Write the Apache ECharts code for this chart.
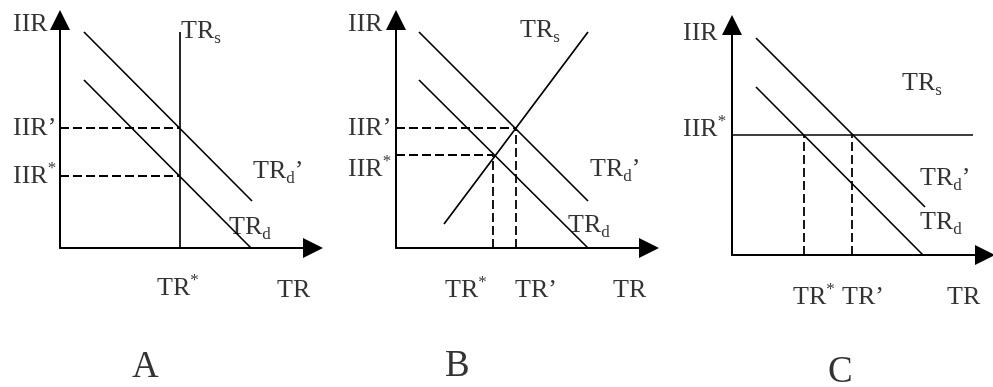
<!DOCTYPE html>
<html>
<head>
<meta charset="utf-8">
<style>
  html, body { margin: 0; padding: 0; background: #fff; }
  #chart { width: 993px; height: 387px; }
</style>
<script src="https://cdn.jsdelivr.net/npm/echarts@6/dist/echarts.min.js"></script>
</head>
<body>
<div id="chart"></div>
<script>
// axis ranges (units, origin at each panel's corner)
const xMax = 253;
const yMaxes = [228, 228, 230];

// panel A: vertical supply
const supplyA = [[120, 0], [120, 216]];
const demandNewA = [[24, 216], [192, 47]];
const demandA = [[24, 168], [191, 0]];
const guidesA = [
  [[0, 120], [120, 120]],
  [[0, 72], [120, 72]],
];
const labelsA = [
  [-47, 224, 'IIR'],
  [121, 217, 'TR{s|s}'],
  [-47, 120, 'IIR’'],
  [-47, 72, 'IIR{sup|*}'],
  [193, 77, 'TR{s|d}’'],
  [169, 21, 'TR{s|d}'],
  [97, -40, 'TR{sup|*}'],
  [217, -42, 'TR'],
  [72, -119, '{big|A}'],
];

// panel B: upward sloping supply
const supplyB = [[48, 24], [192, 216]];
const demandNewB = [[23, 216], [192, 47]];
const demandB = [[23, 168], [192, 0]];
const guidesB = [
  [[0, 120], [120, 120]],
  [[0, 93], [97, 93]],
  [[97, 0], [97, 93]],
  [[120, 0], [120, 120]],
];
const labelsB = [
  [-48, 224, 'IIR'],
  [124, 218, 'TR{s|s}'],
  [-48, 120, 'IIR’'],
  [-48, 79, 'IIR{sup|*}'],
  [194, 79, 'TR{s|d}’'],
  [172, 23, 'TR{s|d}'],
  [49, -42, 'TR{sup|*}'],
  [119, -42, 'TR’'],
  [217, -42, 'TR'],
  [49, -118, '{big|B}'],
];

// panel C: flat supply
const supplyC = [[0, 120], [241, 120]];
const demandNewC = [[24, 217], [193, 48]];
const demandC = [[24, 168], [191, 0]];
const guidesC = [
  [[72, 0], [72, 120]],
  [[120, 0], [120, 120]],
];
const labelsC = [
  [-49, 222, 'IIR'],
  [-49, 126, 'IIR{sup|*}'],
  [170, 172, 'TR{s|s}'],
  [188, 77, 'TR{s|d}’'],
  [188, 33, 'TR{s|d}'],
  [61, -42, 'TR{sup|*}'],
  [110, -42, 'TR’'],
  [215, -42, 'TR'],
  [96, -117, '{big|C}'],
];

const panels = [
  { supply: supplyA, demandNew: demandNewA, demand: demandA, guides: guidesA, labels: labelsA },
  { supply: supplyB, demandNew: demandNewB, demand: demandB, guides: guidesB, labels: labelsB },
  { supply: supplyC, demandNew: demandNewC, demand: demandC, guides: guidesC, labels: labelsC },
];

const FONT = '"Liberation Serif", "DejaVu Serif", serif';
const rich = {
  s: { fontFamily: FONT, fontSize: 17, lineHeight: 16, verticalAlign: 'bottom', color: '#000' },
  sup: { fontFamily: FONT, fontSize: 17, lineHeight: 16, verticalAlign: 'top', color: '#000' },
  big: { fontFamily: FONT, fontSize: 37, lineHeight: 40, color: '#000' },
};

const grids = [
  { left: 60, top: 20, width: 253, height: 228 },
  { left: 396, top: 20, width: 253, height: 228 },
  { left: 732, top: 25, width: 253, height: 230 },
];

const axisLine = {
  show: true,
  symbol: ['none', 'triangle'],
  symbolSize: [20, 20],
  lineStyle: { color: '#000', width: 2 },
};

function lineSeries(data, i, dashed) {
  return {
    type: 'line',
    xAxisIndex: i,
    yAxisIndex: i,
    data,
    showSymbol: false,
    symbol: 'none',
    silent: true,
    lineStyle: { color: '#000', width: dashed ? 1.8 : 1.7, type: dashed ? [9, 4] : 'solid' },
  };
}

const series = [];
panels.forEach((p, i) => {
  series.push(lineSeries(p.supply, i, false));
  series.push(lineSeries(p.demandNew, i, false));
  series.push(lineSeries(p.demand, i, false));
  p.guides.forEach((g) => series.push(lineSeries(g, i, true)));
  series.push({
    type: 'scatter',
    xAxisIndex: i,
    yAxisIndex: i,
    symbolSize: 0,
    clip: false,
    silent: true,
    data: p.labels,
    label: {
      show: true,
      position: [0, 0],
      align: 'left',
      verticalAlign: 'middle',
      fontFamily: FONT,
      fontSize: 26,
      lineHeight: 32,
      color: '#000',
      formatter: (params) => params.data[2],
      rich,
    },
  });
});

const chart = echarts.init(document.getElementById('chart'), null, { renderer: 'canvas' });
chart.setOption({
  animation: false,
  backgroundColor: '#fff',
  grid: grids,
  xAxis: grids.map((_, i) => ({
    type: 'value',
    gridIndex: i,
    min: 0,
    max: xMax,
    axisLine,
    axisTick: { show: false },
    axisLabel: { show: false },
    splitLine: { show: false },
  })),
  yAxis: grids.map((_, i) => ({
    type: 'value',
    gridIndex: i,
    min: 0,
    max: yMaxes[i],
    axisLine,
    axisTick: { show: false },
    axisLabel: { show: false },
    splitLine: { show: false },
  })),
  series,
});
</script>
</body>
</html>
